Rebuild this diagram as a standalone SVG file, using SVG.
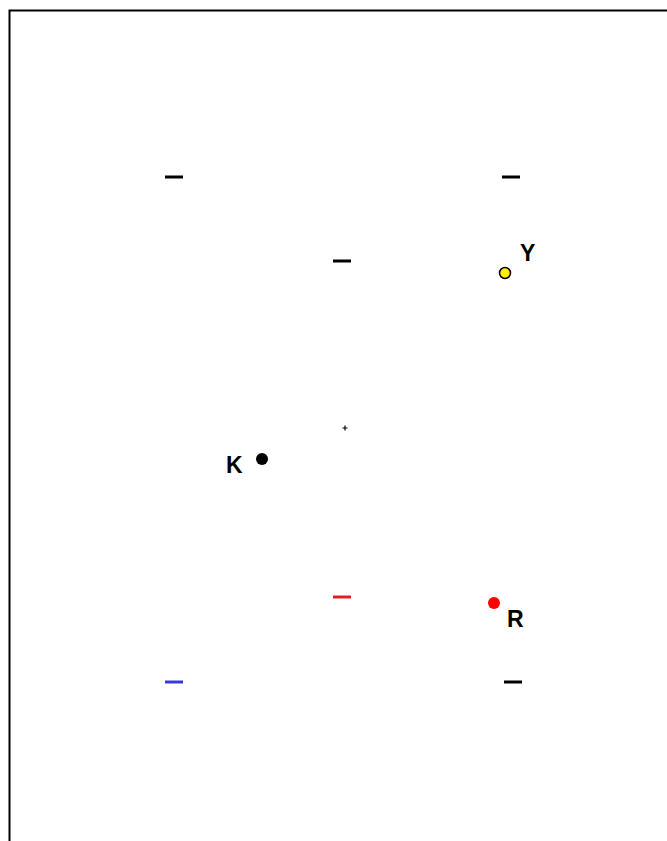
<svg xmlns="http://www.w3.org/2000/svg" width="667" height="841" viewBox="0 0 667 841">
<style>
.d{stroke-width:3;stroke-linecap:butt}
.lbl{font-family:"Liberation Sans",Arial,sans-serif;font-weight:bold;font-size:23px;fill:#000}
</style>
<rect width="667" height="841" fill="#fff"/>
<path d="M9.5,850 V10.5 H680" fill="none" stroke="#000" stroke-width="2"/>
<g id="connectors"></g>
<g id="dash1"><line class="d" x1="165" y1="177" x2="183" y2="177" stroke="#000"/></g>
<g id="dash2"><line class="d" x1="502" y1="177" x2="520" y2="177" stroke="#000"/></g>
<g id="dash3"><line class="d" x1="333" y1="261" x2="351" y2="261" stroke="#000"/></g>
<g id="dash4"><line class="d" x1="333" y1="597" x2="351" y2="597" stroke="#e02020"/></g>
<g id="dash5"><line class="d" x1="165" y1="682" x2="183" y2="682" stroke="#3a3ad8"/></g>
<g id="dash6"><line class="d" x1="504" y1="682" x2="522" y2="682" stroke="#000"/></g>
<g id="Y"><circle cx="505" cy="273" r="5.5" fill="#ffee00" stroke="#000" stroke-width="1.5"/><text class="lbl" x="520" y="261">Y</text></g>
<g id="K"><circle cx="262" cy="459" r="6" fill="#000"/><text class="lbl" x="226" y="473">K</text></g>
<g id="center"><path d="M342.5,428 H347.5 M345,425.5 V430.5" stroke="#000" stroke-width="1.2"/></g>
<g id="R"><circle cx="494" cy="603" r="6" fill="#ff0000"/><text class="lbl" x="507" y="627">R</text></g>
</svg>
